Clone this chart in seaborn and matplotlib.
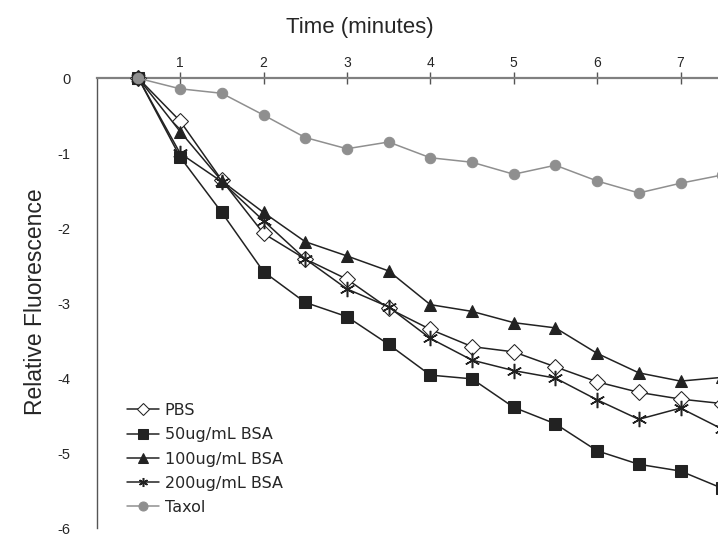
import numpy as np
import pandas as pd
import matplotlib
matplotlib.use("Agg")
import matplotlib.pyplot as plt
import seaborn as sns

# ── Data ──────────────────────────────────────────
time_min = [0.5, 1.0, 1.5, 2.0, 2.5, 3.0, 3.5, 4.0, 4.5, 5.0, 5.5, 6.0, 6.5, 7.0, 7.5]

pbs = [0, -0.57, -1.36, -2.07, -2.41, -2.68, -3.07, -3.35, -3.58, -3.65, -3.85, -4.05, -4.19, -4.28, -4.34]
bsa_50 = [0, -1.05, -1.79, -2.58, -2.99, -3.18, -3.55, -3.96, -4.01, -4.39, -4.61, -4.97, -5.15, -5.24, -5.47]
bsa_100 = [0, -0.71, -1.37, -1.79, -2.18, -2.37, -2.57, -3.02, -3.11, -3.26, -3.33, -3.67, -3.93, -4.04, -3.99]
bsa_200 = [0, -1.0, -1.38, -1.9, -2.41, -2.81, -3.05, -3.47, -3.76, -3.90, -4.00, -4.29, -4.55, -4.40, -4.68]
taxol = [0, -0.14, -0.20, -0.49, -0.79, -0.94, -0.85, -1.06, -1.12, -1.28, -1.16, -1.37, -1.53, -1.40, -1.29]

series_names = ["PBS", "50ug/mL BSA", "100ug/mL BSA", "200ug/mL BSA", "Taxol"]
x_ticks = [1, 2, 3, 4, 5, 6, 7]
y_ticks = [0, -1, -2, -3, -4, -5, -6]

# ── Plot ──────────────────────────────────────────
sns.set_style("white")
plt.rcParams["font.family"] = ["Liberation Sans", "DejaVu Sans"]

W, H = 718, 538
fig = plt.figure(figsize=(W / 100, H / 100), dpi=100)
# axes run past the right edge, the original is cropped there
left, top, bottom = 96.7, 78.3, 528.0
px_per_min = 83.4
ax = fig.add_axes([left / W, (H - bottom) / H, 8 * px_per_min / W, (bottom - top) / H])

line_c = "#222222"
grey = "#8f8f8f"
styles = [
    dict(marker="D", ms=8, mfc="white", mec=line_c, color=line_c),
    dict(marker="s", ms=8.5, mfc=line_c, mec=line_c, color=line_c),
    dict(marker="^", ms=9, mfc=line_c, mec=line_c, color=line_c),
    dict(marker=(6, 2, 0), ms=11, mfc=line_c, mec=line_c, mew=1.1, color=line_c),
    dict(marker="o", ms=7.5, mfc=grey, mec=grey, color=grey),
]
for name, vals, st in zip(series_names, [pbs, bsa_50, bsa_100, bsa_200, taxol], styles):
    sns.lineplot(x=time_min, y=vals, ax=ax, label=name, lw=1.1, clip_on=False, zorder=3, **st)

ax.set_xlim(0, 8)
ax.set_ylim(-6, 0)

ax.xaxis.tick_top()
ax.set_xticks(x_ticks)
ax.set_yticks(y_ticks)
ax.set_yticklabels([str(v) for v in y_ticks])
ax.tick_params(axis="x", direction="inout", length=8, width=1, color="#555555",
               labelsize=10, pad=2)
ax.tick_params(axis="y", direction="out", length=5, width=1, color="#555555",
               labelsize=10.5, pad=14)

for side in ["right", "bottom"]:
    ax.spines[side].set_visible(False)
ax.spines["top"].set_color("#808080")
ax.spines["top"].set_linewidth(1.6)
ax.spines["left"].set_color("#555555")
ax.spines["left"].set_linewidth(1.0)

fig.text(360 / W, 1 - 28 / H, "Time (minutes)", ha="center", va="center", fontsize=16)
fig.text(36 / W, 1 - 302 / H, "Relative Fluorescence", ha="center", va="center",
         rotation=90, fontsize=16.5)

leg = ax.legend(loc="upper left", bbox_to_anchor=(127 / W, 1 - 403 / H),
                bbox_transform=fig.transFigure, frameon=False,
                handlelength=2.0, handletextpad=0.35, labelspacing=0.58,
                borderaxespad=0, borderpad=0, fontsize=11.5)
for t in leg.get_texts():
    t.set_family("DejaVu Sans")
for h in leg.legend_handles:
    h.set_markersize(6.5)

fig.savefig("out.png", dpi=100)
